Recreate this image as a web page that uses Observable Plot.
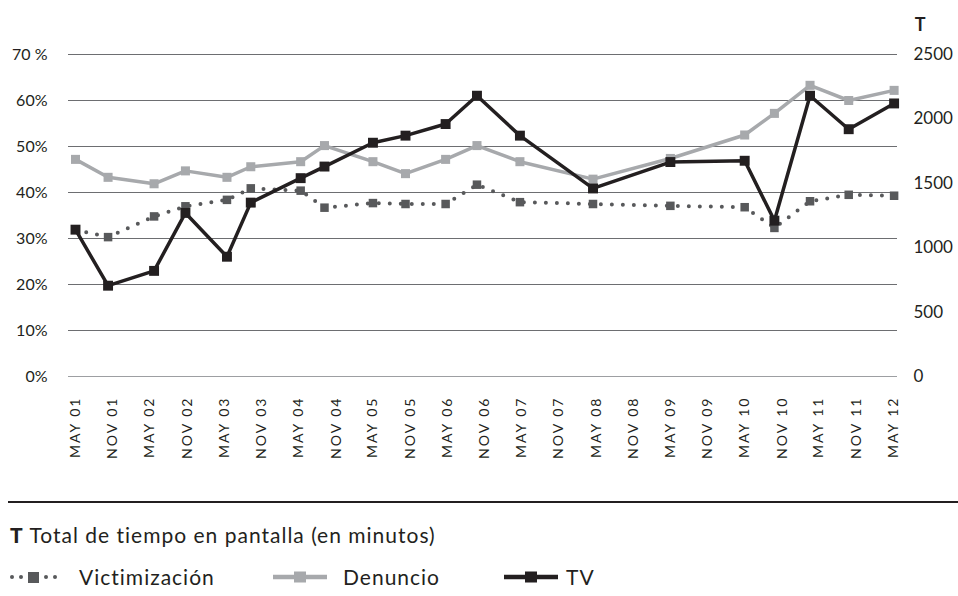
<!DOCTYPE html>
<html><head><meta charset="utf-8">
<script src="https://cdn.jsdelivr.net/npm/d3@7"></script>
<script src="https://cdn.jsdelivr.net/npm/@observablehq/plot@0.6"></script>
<style>
body{margin:0;background:#fff;font-family:Lato,sans-serif;color:#231f20;}
#wrap{position:relative;width:958px;height:596px;overflow:hidden;}
#chart{position:absolute;left:0;top:0;}
.hr{position:absolute;left:8px;width:950px;top:501px;height:2px;background:#231f20;}
.note{position:absolute;left:10px;top:523px;font-size:21px;line-height:24px;letter-spacing:1px;white-space:nowrap;}
.note b{font-weight:900;}
.leg{position:absolute;top:565px;font-size:21px;line-height:24px;letter-spacing:1px;white-space:nowrap;}
.sw{position:absolute;top:569px;}
</style>
</head><body>
<div id="wrap">
  <div id="chart"></div>
  <div class="hr"></div>
  <div class="note"><b>T</b> Total de tiempo en pantalla (en minutos)</div>
  <svg class="sw" style="left:8px" width="60" height="16">
    <circle cx="4" cy="8" r="2" fill="#58595b"/><circle cx="13" cy="8" r="2" fill="#58595b"/>
    <rect x="20" y="3" width="11" height="11" fill="#58595b"/>
    <circle cx="38" cy="8" r="2" fill="#58595b"/><circle cx="47" cy="8" r="2" fill="#58595b"/>
  </svg>
  <div class="leg" style="left:79px">Victimización</div>
  <svg class="sw" style="left:273px" width="56" height="16">
    <line x1="0" y1="8" x2="54" y2="8" stroke="#a7a9ac" stroke-width="4.5"/>
    <rect x="21" y="2.5" width="12" height="11" fill="#a7a9ac"/>
  </svg>
  <div class="leg" style="left:343px">Denuncio</div>
  <svg class="sw" style="left:504px" width="56" height="16">
    <line x1="0" y1="8" x2="54" y2="8" stroke="#231f20" stroke-width="4.5"/>
    <rect x="21" y="2.5" width="12" height="11" fill="#231f20"/>
  </svg>
  <div class="leg" style="left:566px">TV</div>
</div>
<script>
// ---- data ----
const dates = ["2001-05-01","2001-10-08","2002-05-22","2002-10-23","2003-05-15","2003-09-09",
  "2004-05-11","2004-09-05","2005-05-01","2005-10-08","2006-04-23","2006-09-24","2007-04-23",
  "2008-04-16","2009-05-01","2010-05-01","2010-09-24","2011-03-18","2011-09-24","2012-05-04"];
const victimizacion = [31.9,30.3,34.8,37.0,38.4,40.9,40.4,36.7,37.7,37.5,37.5,41.7,37.9,37.5,37.1,36.8,32.3,38.1,39.5,39.3];
const denuncio = [47.2,43.3,41.9,44.7,43.3,45.6,46.7,50.2,46.7,44.1,47.2,50.2,46.7,42.9,47.4,52.5,57.2,63.3,60.0,62.2];
const tv = [1140,705,820,1270,930,1350,1540,1630,1815,1870,1960,2180,1870,1460,1665,1675,1210,2180,1920,2120];
const xTickLabels = ["MAY 01","NOV 01","MAY 02","NOV 02","MAY 03","NOV 03","MAY 04","NOV 04","MAY 05","NOV 05",
  "MAY 06","NOV 06","MAY 07","NOV 07","MAY 08","NOV 08","MAY 09","NOV 09","MAY 10","NOV 10","MAY 11","NOV 11","MAY 12"];
const pctTicks = [0,10,20,30,40,50,60,70];
const tvTicks = [0,500,1000,1500,2000,2500];
const PCT_MAX = 70, TV_MAX = 2500;

// ---- derived ----
const parse = d3.utcParse("%Y-%m-%d");
const rows = dates.map((d,i)=>({date:parse(d), vic:victimizacion[i], den:denuncio[i], tv:tv[i]}));
const monthIdx = {MAY:4, NOV:10};
const tickDates = xTickLabels.map(l => { const [m,y] = l.split(" "); return new Date(Date.UTC(2000 + (+y), monthIdx[m], 1)); });
const labelByTime = new Map(tickDates.map((d,i)=>[+d, xTickLabels[i]]));
const tvToPct = v => v * PCT_MAX / TV_MAX;

const chart = Plot.plot({
  width: 958, height: 480,
  marginTop: 54, marginBottom: 104, marginLeft: 68, marginRight: 61,
  style: {fontFamily: "Lato, sans-serif", fontSize: "16px", color: "#231f20", background: "transparent", overflow: "visible"},
  x: {type: "utc", domain: [tickDates[0], tickDates[tickDates.length-1]], insetLeft: 7, insetRight: 4},
  y: {domain: [0, PCT_MAX]},
  marks: [
    Plot.ruleY(pctTicks, {stroke: d => d === 0 ? "#9d9fa2" : "#6d6e71", strokeWidth: 1}),
    Plot.axisY({anchor: "left", ticks: pctTicks, tickSize: 0, tickPadding: 21, label: null, fontSize: 16,
      tickFormat: d => d === 70 ? "70 %" : d + "%"}),
    Plot.axisY({anchor: "right", ticks: tvTicks.map(tvToPct), tickSize: 0, tickPadding: 16, label: null, fontSize: 17,
      tickFormat: d => String(Math.round(d * TV_MAX / PCT_MAX))}),
    Plot.axisX({ticks: tickDates, tickFormat: d => labelByTime.get(+d), tickRotate: -90, tickSize: 0, tickPadding: 20,
      label: null, fontSize: 14}),
    Plot.text(["T"], {frameAnchor: "top-right", dx: 28, dy: -36, fontWeight: "bold", fontSize: 18, fill: "#231f20"}),
    Plot.line(rows, {x: "date", y: "vic", stroke: "#58595b", strokeWidth: 4, strokeDasharray: "0 11", strokeLinecap: "round"}),
    Plot.dot(rows, {x: "date", y: "vic", symbol: "square", r: 4.8, fill: "#58595b"}),
    Plot.line(rows, {x: "date", y: "den", stroke: "#a7a9ac", strokeWidth: 3.5}),
    Plot.dot(rows, {x: "date", y: "den", symbol: "square", r: 5.1, fill: "#a7a9ac"}),
    Plot.line(rows, {x: "date", y: d => tvToPct(d.tv), stroke: "#231f20", strokeWidth: 3.5}),
    Plot.dot(rows, {x: "date", y: d => tvToPct(d.tv), symbol: "square", r: 5.6, fill: "#231f20"})
  ]
});
d3.select(chart).selectAll('g[aria-label="x-axis tick label"] text').style("letter-spacing", "2px");
document.getElementById("chart").appendChild(chart);
</script>
</body></html>
